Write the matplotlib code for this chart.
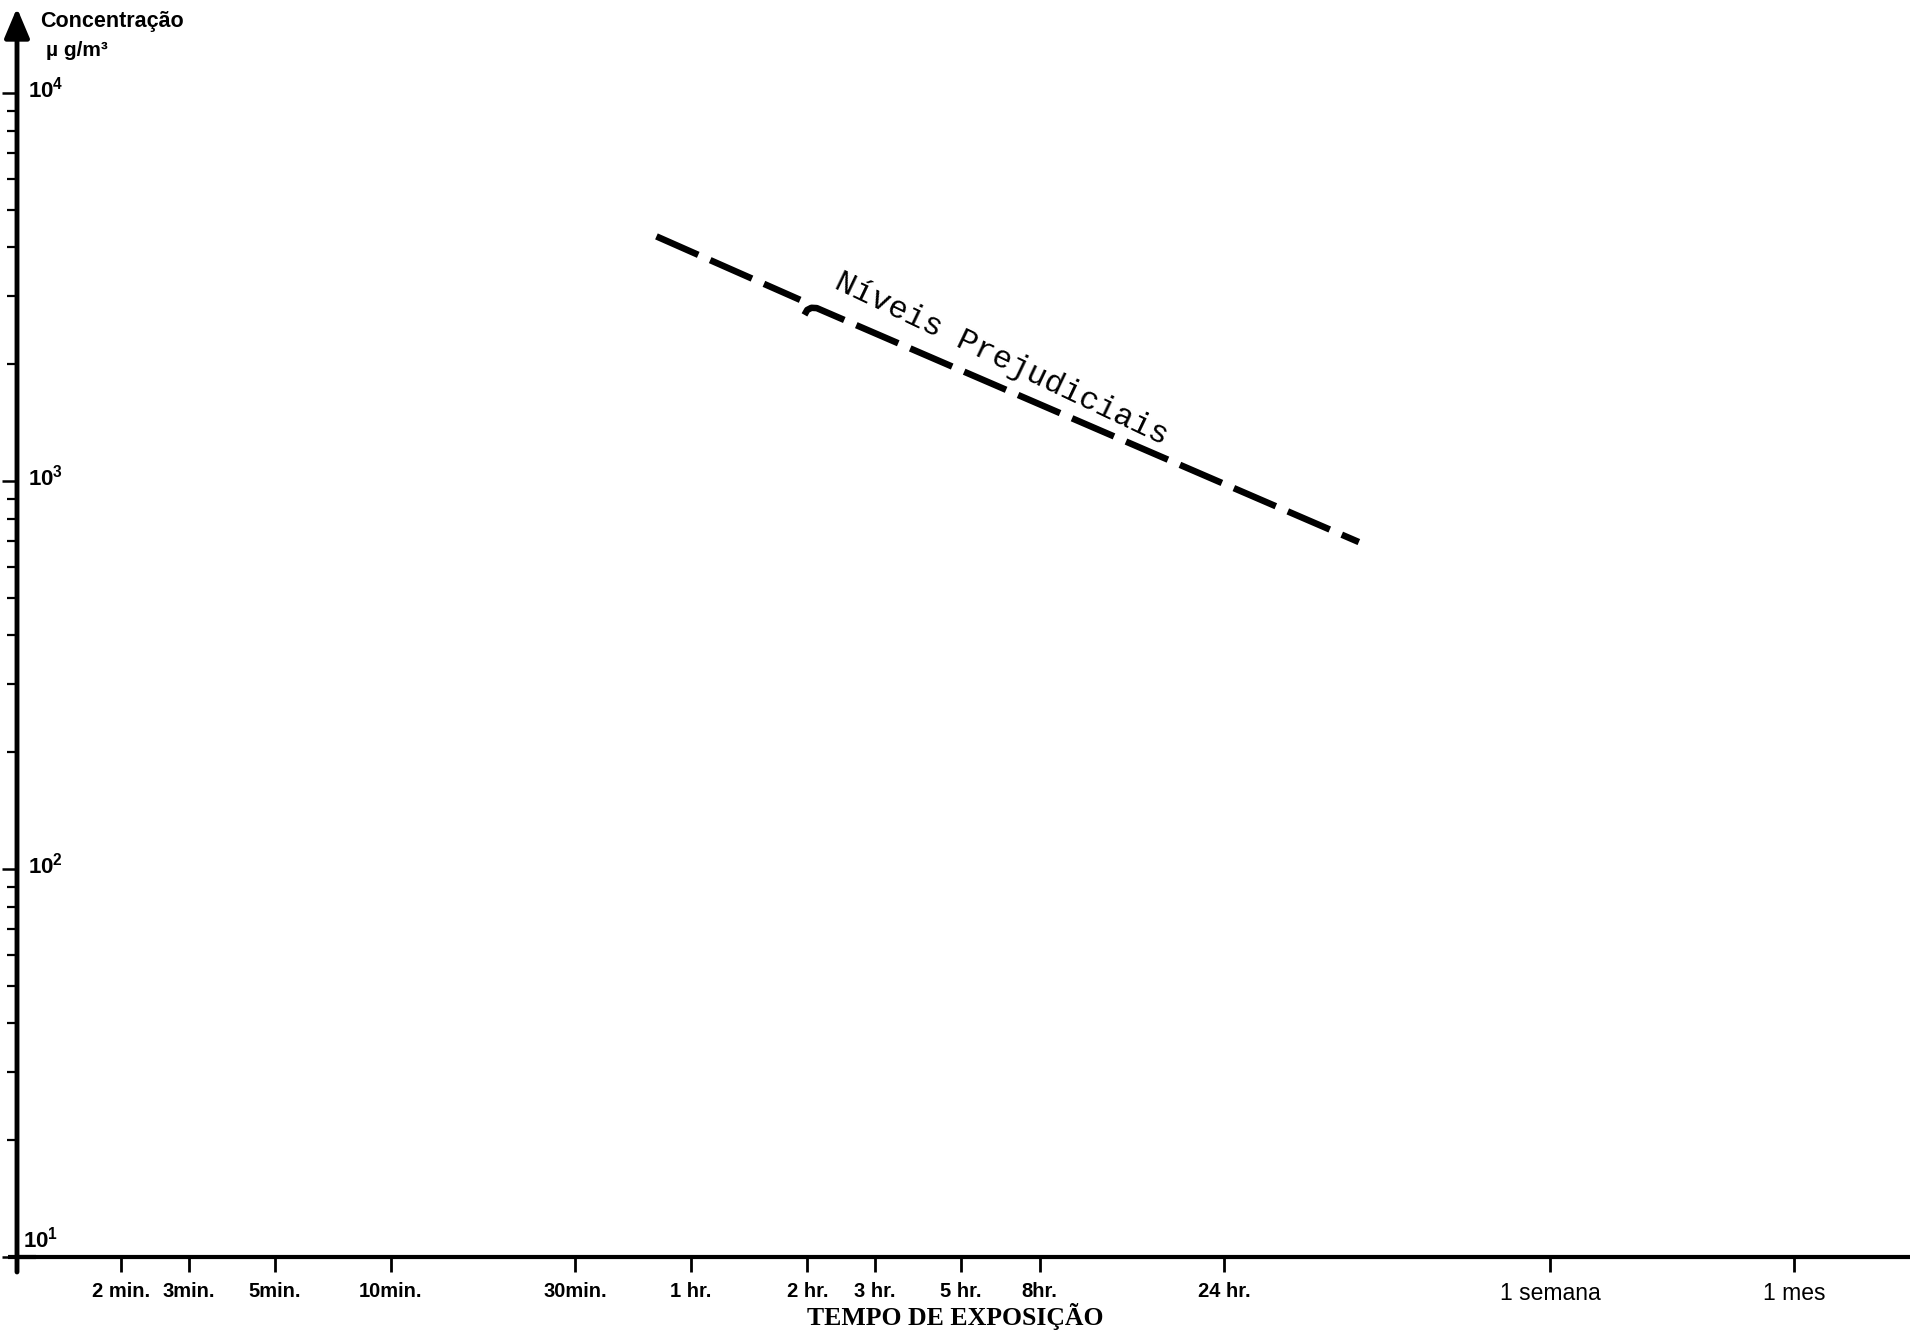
import matplotlib
matplotlib.use("Agg")
import matplotlib.pyplot as plt
from matplotlib.ticker import FixedLocator, LogLocator, NullFormatter, NullLocator
from matplotlib.transforms import blended_transform_factory

# Exposure time ticks (in minutes) and their labels
time_minutes = [2, 3, 5, 10, 30, 60, 120, 180, 300, 480, 1440, 10080, 43200]
time_labels = ["2 min.", "3min.", "5min.", "10min.", "30min.", "1 hr.", "2 hr.",
               "3 hr.", "5 hr.", "8hr.", "24 hr.", "1 semana", "1 mes"]

# Concentration decades (µg/m³)
conc_decades = [10, 100, 1000, 10000]
conc_labels = [r"$\mathbf{10^{1}}$", r"$\mathbf{10^{2}}$", r"$\mathbf{10^{3}}$", r"$\mathbf{10^{4}}$"]

# Harmful-level curve, drawn in two pieces (second one starts with a small hook)
harm_t_a = [48.8, 115]
harm_c_a = [4270, 2930]
harm_t_b = [118, 120, 123, 127, 3222]
harm_c_b = [2680, 2760, 2795, 2790, 696]

plt.rcParams["mathtext.fontset"] = "custom"
plt.rcParams["mathtext.rm"] = "Liberation Sans"
plt.rcParams["mathtext.bf"] = "Liberation Sans:bold"
plt.rcParams["font.family"] = ["Liberation Sans", "DejaVu Sans"]

W, H = 1910, 1338
fig = plt.figure(figsize=(W / 100, H / 100), dpi=100)
left_px, bottom_px, top_px = 17, 81, 1330
ax = fig.add_axes([left_px / W, bottom_px / H, (W - left_px) / W, (top_px - bottom_px) / H])
ax.set_xscale("log")
ax.set_yscale("log")
ax.set_xlim(1.076, 86300)
ax.set_ylim(10, 16560)

for s in ("top", "right", "left"):
    ax.spines[s].set_visible(False)
ax.spines["bottom"].set_linewidth(3)

# vertical axis with arrow head
ax.annotate("", xy=(0, 1), xycoords="axes fraction", xytext=(0, -0.012),
            textcoords="axes fraction",
            arrowprops=dict(arrowstyle="-|>,head_length=0.9,head_width=0.38",
                            mutation_scale=20, lw=3.5, color="black",
                            shrinkA=0, shrinkB=0),
            annotation_clip=False)
ax.plot([-0.005, 0.01], [0, 0], transform=ax.transAxes, clip_on=False,
        lw=3, color="black", solid_capstyle="butt")

# x ticks
ax.xaxis.set_major_locator(FixedLocator(time_minutes))
ax.xaxis.set_minor_locator(NullLocator())
ax.set_xticklabels(time_labels)
ax.tick_params(axis="x", which="major", direction="out", length=11, width=2,
               pad=7, labelsize=14.5)
for lab in ax.get_xticklabels():
    lab.set_fontweight("bold")
for lab in ax.get_xticklabels()[-2:]:
    lab.set_fontweight("normal")
    lab.set_fontsize(16.5)

# y ticks
ax.yaxis.set_major_locator(FixedLocator(conc_decades))
ax.yaxis.set_minor_locator(LogLocator(base=10, subs=range(2, 10)))
ax.yaxis.set_minor_formatter(NullFormatter())
ax.set_yticklabels([])
ax.tick_params(axis="y", which="major", direction="out", length=10.5, width=1.8)
ax.tick_params(axis="y", which="minor", direction="out", length=7, width=1.6)

trans = blended_transform_factory(ax.transAxes, ax.transData)
for v, lab in zip(conc_decades, conc_labels):
    if v == 10:
        ax.text(0.003, v * 1.03, lab, transform=trans, ha="left", va="bottom", fontsize=16)
    else:
        ax.text(0.0058, v * 1.02, lab, transform=trans, ha="left", va="center", fontsize=16)

# harmful-level dashed curve
dash = (0, (7.0, 2.0))
ax.plot(harm_t_a, harm_c_a, color="black", lw=4.7, linestyle=dash, dash_capstyle="butt")
ax.plot(harm_t_b, harm_c_b, color="black", lw=4.7, linestyle=dash, dash_capstyle="butt")
ax.text(383, 2063, "Níveis Prejudiciais", family="Liberation Mono", fontsize=23,
        rotation=-25.5, rotation_mode="anchor", ha="center", va="center")

# axis titles
fig.text(40 / W, 1 - 22 / H, "Concentração", fontsize=15.5, fontweight="bold",
         ha="left", va="center")
fig.text(46 / W, 1 - 50 / H, "µ g/m³", fontsize=15, fontweight="bold",
         ha="left", va="center")
fig.text(955 / W, 1 - 1316 / H, "TEMPO DE EXPOSIÇÃO", family="Liberation Serif",
         fontsize=18.5, fontweight="bold", ha="center", va="center")

fig.savefig("out.png", dpi=100)
